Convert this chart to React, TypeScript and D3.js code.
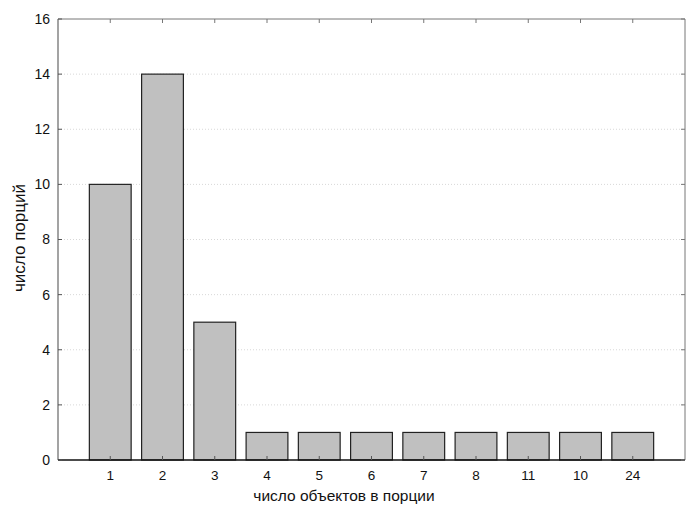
import React from "react";
import * as d3 from "d3";

const categories = ["1", "2", "3", "4", "5", "6", "7", "8", "11", "10", "24"];
const counts = [10, 14, 5, 1, 1, 1, 1, 1, 1, 1, 1];
const yTicks = [0, 2, 4, 6, 8, 10, 12, 14, 16];
const xTitle = "число объектов в порции";
const yTitle = "число порций";

const W = 697, H = 516;
const L = 58, R = 685, T = 19, B = 460;

export default function App() {
  const x = d3.scalePoint<string>().domain(categories).range([L, R]).padding(1);
  const step = x.step();
  const bw = step * 0.8;
  const y = d3.scaleLinear().domain([0, 16]).range([B, T]);
  const font = "Arial, 'Liberation Sans', sans-serif";
  return (
    <svg width={W} height={H} style={{ position: "absolute", left: 0, top: 0 }} fontFamily={font}>
      <rect x={0} y={0} width={W} height={H} fill="#fff" />
      {yTicks.slice(1, -1).map((t) => (
        <line key={"g" + t} x1={L} x2={R} y1={y(t)} y2={y(t)} stroke="#d8d8d8" strokeWidth={1} strokeDasharray="1,2" />
      ))}
      {counts.map((v, i) => (
        <rect key={i} x={x(categories[i])! - bw / 2} y={y(v)} width={bw} height={y(0) - y(v)}
          fill="#c0c0c0" stroke="#222" strokeWidth={1.2} />
      ))}
      {/* frame */}
      <line x1={L} x2={R} y1={T} y2={T} stroke="#777" />
      <line x1={R} x2={R} y1={T} y2={B} stroke="#777" />
      <line x1={L} x2={L} y1={T} y2={B} stroke="#666" strokeWidth={1.2} />
      <line x1={L} x2={R} y1={B} y2={B} stroke="#111" strokeWidth={1.4} />
      {yTicks.map((t) => (
        <g key={"y" + t}>
          <line x1={L} x2={L + 4} y1={y(t)} y2={y(t)} stroke="#555" />
          <line x1={R - 4} x2={R} y1={y(t)} y2={y(t)} stroke="#777" />
          <text x={L - 8} y={y(t)} dy="0.35em" textAnchor="end" fontSize={14} fill="#111">{t}</text>
        </g>
      ))}
      {categories.map((c) => (
        <g key={"x" + c}>
          <line x1={x(c)} x2={x(c)} y1={B} y2={B - 4} stroke="#555" />
          <line x1={x(c)} x2={x(c)} y1={T} y2={T + 4} stroke="#777" />
          <text x={x(c)} y={B + 20} textAnchor="middle" fontSize={13.5} fill="#111">{c}</text>
        </g>
      ))}
      <text x={344} y={501} textAnchor="middle" fontSize={15.5} fill="#111">{xTitle}</text>
      <text transform={`translate(25,238) rotate(-90)`} textAnchor="middle" fontSize={17} fill="#111">{yTitle}</text>
    </svg>
  );
}
